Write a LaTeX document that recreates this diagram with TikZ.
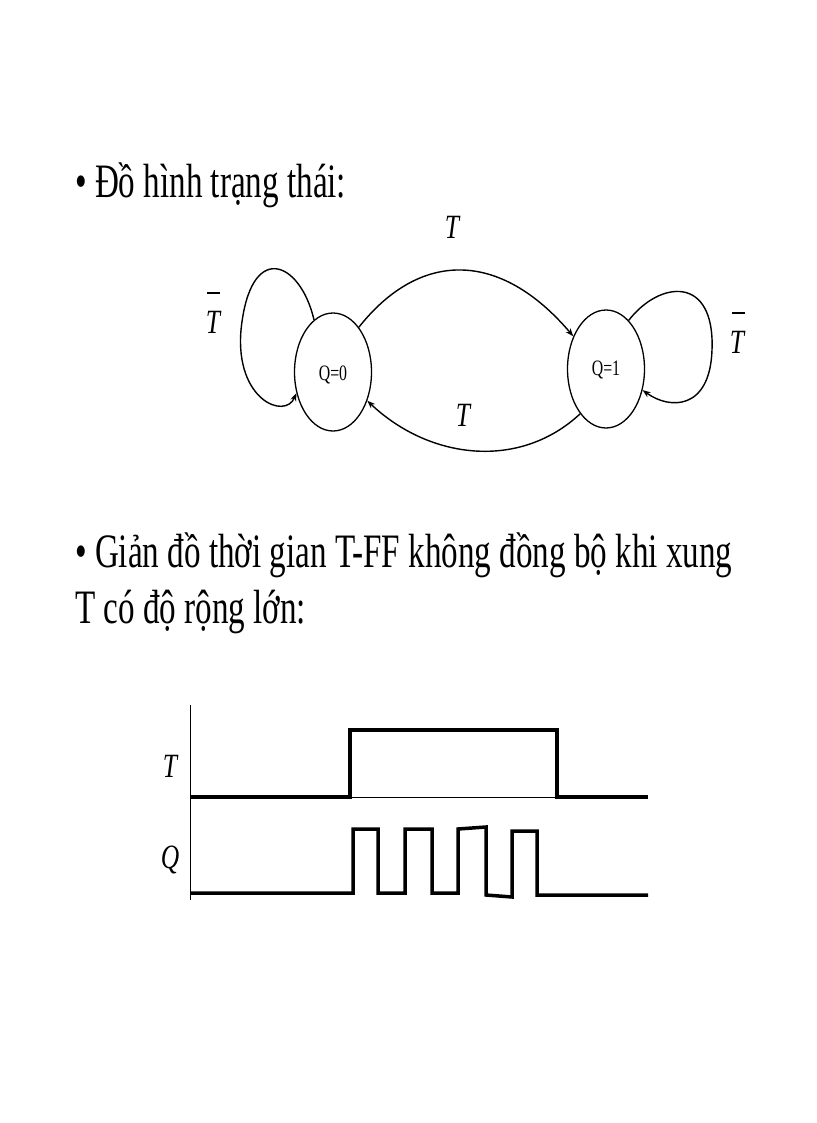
\documentclass[tikz,border=0pt]{standalone}
\usepackage{fontspec}
\setmainfont{Liberation Serif}
\usetikzlibrary{arrows.meta,shapes.geometric}
\begin{document}
\begin{tikzpicture}[x=1pt,y=-1pt,
  big/.style={anchor=west,inner sep=0,font=\fontsize{48}{52}\selectfont,xscale=0.69},
  st/.style={draw,ellipse,minimum width=77,minimum height=118,inner sep=0,line width=1.3},
  stt/.style={font=\fontsize{22}{24}\selectfont,xscale=0.72},
  tr/.style={line width=1.4,-{Stealth[length=8,width=6]}},
  lab/.style={font=\itshape\fontsize{34}{36}\selectfont,xscale=0.75,inner sep=0},
  sig/.style={line width=3.5}]
\useasboundingbox (0,0) rectangle (816,1123);
\node[big] (h1) at (75,185) {• Đồ hình trạng thái:};
\node[big] (h2) at (75,555) {• Giản đồ thời gian T-FF không đồng bộ khi xung};
\node[big] (h3) at (75,612) {T có độ rộng lớn:};
\node[st] (q0) at (333,372) {};
\node[stt] (q0t) at (333,375) {Q=0};
\node[st] (q1) at (606,369) {};
\node[stt] (q1t) at (606,370) {Q=1};
\draw[tr] (q0.60) .. controls (420,250) and (500,250) .. (q1.135);
\draw[tr] (q1.-120) .. controls (520,470) and (430,460) .. (q0.-40);
\draw[tr] (q0.110) .. controls (300,260) and (250,240) .. (241,330) .. controls (235,400) and (285,420) .. (q0.-150);
\draw[tr] (q1.65) .. controls (660,280) and (715,275) .. (712,350) .. controls (710,410) and (670,410) .. (q1.-30);
\node[lab] (t1) at (452,227) {T};
\node[lab] (t2) at (463,415) {T};
\node[lab] (tb1) at (213,322) {T};
\coordinate (b1) at (213,293);
\draw[line width=1.5] (b1) ++(-6,0) -- ++(13,0);
\node[lab] (tb2) at (737,342) {T};
\coordinate (b2) at (738,313);
\draw[line width=1.5] (b2) ++(-6,0) -- ++(13,0);
\draw[line width=1] (190,705) -- (190,900);
\draw[line width=1] (190,797) -- (648,797);
\draw[sig] (190,797) -- (350,797) -- (350,730) -- (557,730) -- (557,797) -- (648,797);
\draw[sig] (190,893) -- (353,893) -- (353,829) -- (378,829) -- (378,893) -- (405,893) -- (405,829) -- (432,829) -- (432,893) -- (458,893) -- (458,829) -- (486,827) -- (486,895) -- (512,897) -- (512,831) -- (537,831) -- (537,895) -- (648,895);
\node[lab] (lt) at (170,766) {T};
\node[lab] (lq) at (170,860) {Q};
\end{tikzpicture}
\end{document}
